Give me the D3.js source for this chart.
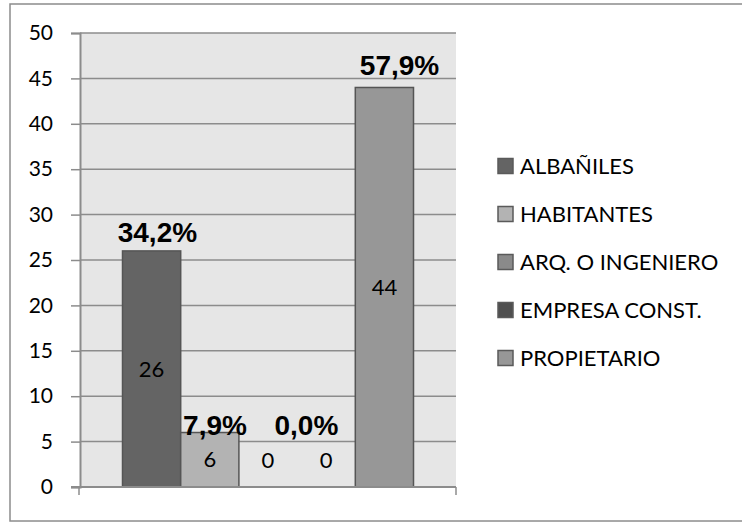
<!DOCTYPE html>
<html>
<head>
<meta charset="utf-8">
<script src="https://cdn.jsdelivr.net/npm/d3@7"></script>
<style>
  body { margin: 0; background: #fff; }
  svg { display: block; }
</style>
</head>
<body>
<script>
var svgWidth = 742;
var svgHeight = 527;

// data
var series = ["ALBAÑILES", "HABITANTES", "ARQ. O INGENIERO", "EMPRESA CONST.", "PROPIETARIO"];
var values = [26, 6, 0, 0, 44];
var colors = ["#646464", "#b3b3b3", "#8a8a8a", "#4f4f4f", "#979797"];
var yTicks = [0, 5, 10, 15, 20, 25, 30, 35, 40, 45, 50];

// percentage text boxes: text, position in bar units, height in value units
var pctText = ["34,2%", "7,9%", "0,0%", "57,9%"];
var pctBarPos = [0.1, 1.09, 2.66, 4.26];
var pctHeight = [27.0, 5.7, 5.7, 45.4];

var plot = { left: 80, right: 456, top: 33, bottom: 487 };
var labelFont = "Lato, 'Open Sans', sans-serif";

var svg = d3.select("body")
  .append("svg")
  .attr("width", svgWidth)
  .attr("height", svgHeight);

// outer chart border
svg.append("rect")
  .attr("x", 10)
  .attr("y", 4)
  .attr("width", 740)
  .attr("height", 517)
  .attr("fill", "#fff")
  .attr("stroke", "#8c8c8c")
  .attr("stroke-width", 1.5);

var yScale = d3.scaleLinear()
  .domain([0, 50])
  .range([plot.bottom, plot.top]);

var clusterPad = 42.5;
var xScale = d3.scaleBand()
  .domain(series)
  .range([plot.left + clusterPad, plot.right - clusterPad])
  .padding(0);

var bw = xScale.bandwidth();
var posScale = d3.scaleLinear()
  .domain([0, series.length - 1])
  .range([xScale(series[0]) + bw / 2, xScale(series[series.length - 1]) + bw / 2]);

// plot background
svg.append("rect")
  .attr("x", plot.left)
  .attr("y", plot.top)
  .attr("width", plot.right - plot.left)
  .attr("height", plot.bottom - plot.top)
  .attr("fill", "#e6e6e6");

// gridlines
svg.append("g")
  .selectAll("line")
  .data(yTicks.filter(d => d > 0))
  .enter()
  .append("line")
  .attr("x1", plot.left)
  .attr("x2", plot.right)
  .attr("y1", d => yScale(d))
  .attr("y2", d => yScale(d))
  .attr("stroke", "#8c8c8c")
  .attr("stroke-width", 1.5);

// y axis
var yAxis = d3.axisLeft(yScale)
  .tickValues(yTicks)
  .tickSize(9)
  .tickPadding(18);

var yAxisG = svg.append("g")
  .attr("transform", `translate(${plot.left}, 0)`)
  .call(yAxis);
yAxisG.select(".domain").attr("stroke", "#8c8c8c").attr("stroke-width", 2);
yAxisG.selectAll(".tick line").attr("stroke", "#8c8c8c").attr("stroke-width", 1.5);
yAxisG.selectAll(".tick text")
  .attr("fill", "#000")
  .style("font-family", labelFont)
  .style("font-size", "21px");

// bars
svg.append("g")
  .selectAll("rect")
  .data(values)
  .enter()
  .append("rect")
  .attr("x", (d, i) => xScale(series[i]))
  .attr("y", d => yScale(d))
  .attr("width", bw)
  .attr("height", d => yScale(0) - yScale(d))
  .attr("fill", (d, i) => colors[i])
  .attr("stroke", d => d > 0 ? "#555" : "none")
  .attr("stroke-width", 1.5);

// x axis line with end ticks
var xAxisG = svg.append("g");
xAxisG.append("line")
  .attr("x1", plot.left - 9)
  .attr("x2", plot.right)
  .attr("y1", yScale(0))
  .attr("y2", yScale(0))
  .attr("stroke", "#8c8c8c")
  .attr("stroke-width", 2);
xAxisG.selectAll("line.tk")
  .data([plot.left - 1, plot.right])
  .enter()
  .append("line")
  .attr("class", "tk")
  .attr("x1", d => d)
  .attr("x2", d => d)
  .attr("y1", yScale(0))
  .attr("y2", yScale(0) + 8)
  .attr("stroke", "#8c8c8c")
  .attr("stroke-width", 1.5);

// value labels
svg.append("g")
  .selectAll("text")
  .data(values)
  .enter()
  .append("text")
  .attr("x", (d, i) => xScale(series[i]) + bw / 2)
  .attr("y", d => Math.min(yScale(d / 2), yScale(0) - 27))
  .attr("dy", "0.35em")
  .attr("text-anchor", "middle")
  .style("font-family", labelFont)
  .style("font-size", "22px")
  .attr("fill", "#000")
  .text(d => d);

// percentage labels
svg.append("g")
  .selectAll("text")
  .data(pctText)
  .enter()
  .append("text")
  .attr("x", (d, i) => posScale(pctBarPos[i]))
  .attr("y", (d, i) => yScale(pctHeight[i]))
  .attr("text-anchor", "middle")
  .style("font-family", "'Liberation Sans', Arial, sans-serif")
  .style("font-weight", "bold")
  .style("font-size", "28px")
  .attr("fill", "#000")
  .text(d => d);

// legend
var legend = svg.append("g")
  .attr("transform", "translate(498, 166)");

var legendItem = legend.selectAll("g")
  .data(series)
  .enter()
  .append("g")
  .attr("transform", (d, i) => `translate(0, ${i * 48})`);

legendItem.append("rect")
  .attr("x", 0)
  .attr("y", -7.5)
  .attr("width", 15)
  .attr("height", 15)
  .attr("fill", (d, i) => colors[i])
  .attr("stroke", "#5a5a5a")
  .attr("stroke-width", 1.5);

legendItem.append("text")
  .attr("x", 22)
  .attr("y", 0)
  .attr("dy", "0.36em")
  .style("font-family", labelFont)
  .style("font-size", "22px")
  .attr("fill", "#000")
  .text(d => d);
</script>
</body>
</html>
